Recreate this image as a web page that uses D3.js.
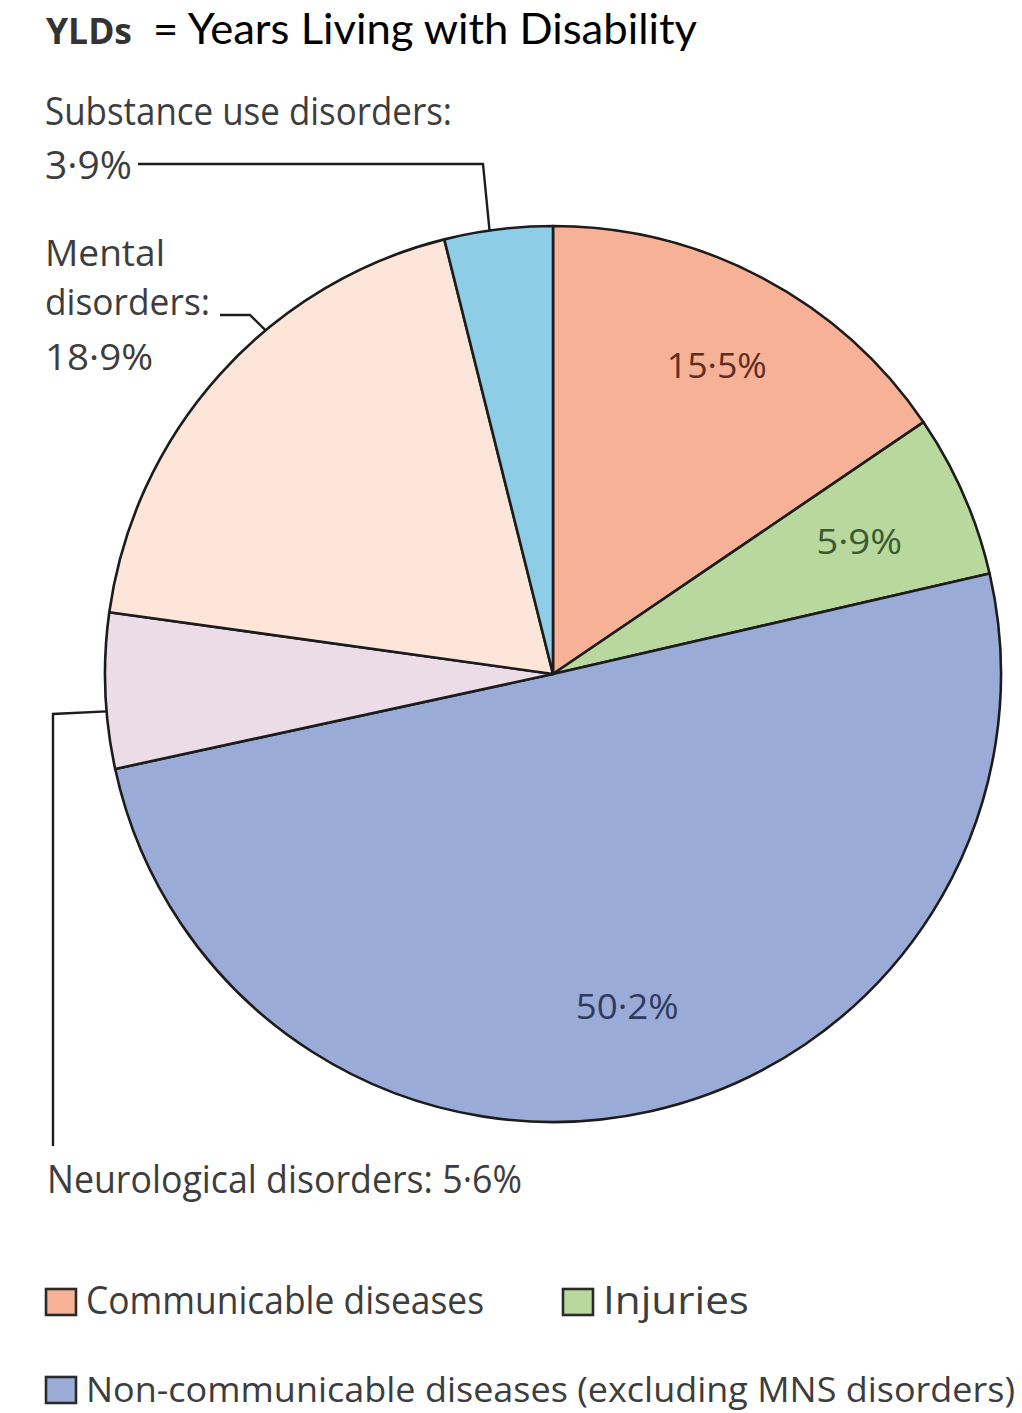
<!DOCTYPE html>
<html>
<head>
<meta charset="utf-8">
<script src="https://cdn.jsdelivr.net/npm/d3@7"></script>
<style>
  html, body { margin: 0; padding: 0; background: #ffffff; }
  svg { display: block; }
</style>
</head>
<body>
<svg id="chart" width="1022" height="1413"></svg>
<script>
// Share of YLDs by cause group, clockwise from 12 o'clock
const categories = [
  "Communicable diseases",
  "Injuries",
  "Non-communicable diseases (excluding MNS disorders)",
  "Neurological disorders",
  "Mental disorders",
  "Substance use disorders"
];
const shares = [15.5, 5.9, 50.2, 5.6, 18.9, 3.9];
const sliceColors = ["#f7b196", "#b9d89d", "#9babd7", "#ebdce8", "#fde5d9", "#8dcde6"];
const innerLabelColors = ["#5b2f22", "#3c5a32", "#2f3a5e"];
const legendItems = [0, 1, 2];

const fmt = v => v.toFixed(1).replace(".", "\u00b7") + "%";

const svg = d3.select("#chart");
const cx = 553, cy = 674, R = 448;

const data = categories.map((c, i) => ({ name: c, value: shares[i], color: sliceColors[i], i }));
const pie = d3.pie().sort(null).value(d => d.value).startAngle(0).endAngle(2 * Math.PI);
const arcs = pie(data);
const arc = d3.arc().innerRadius(0).outerRadius(R);
const innerRadii = [350, 334, 340];

const g = svg.append("g").attr("transform", `translate(${cx},${cy})`);

g.selectAll("path.slice")
  .data(arcs)
  .join("path")
  .attr("class", "slice")
  .attr("d", arc)
  .attr("fill", d => d.data.color)
  .attr("stroke", "#1c1c1c")
  .attr("stroke-width", 2.6)
  .attr("stroke-linejoin", "round");

// Percentages printed inside the three large groups
const innerWidths = [100, 86, 103];
g.selectAll("text.inner")
  .data(arcs.slice(0, 3))
  .join("text")
  .attr("class", "inner")
  .attr("transform", (d, i) => {
    const r = innerRadii[i];
    const [x, y] = d3.arc().innerRadius(r).outerRadius(r).centroid(d);
    return `translate(${x},${y})`;
  })
  .attr("text-anchor", "middle")
  .attr("dominant-baseline", "central")
  .attr("font-family", "'Open Sans', sans-serif")
  .attr("font-size", 35)
  .attr("fill", (d, i) => innerLabelColors[i])
  .attr("textLength", (d, i) => innerWidths[i])
  .attr("lengthAdjust", "spacingAndGlyphs")
  .text(d => fmt(d.data.value));

// Point on the rim at a fraction t through a slice
function rimPoint(d, t) {
  const a = d.startAngle + (d.endAngle - d.startAngle) * t;
  return [cx + R * Math.sin(a), cy - R * Math.cos(a)];
}

const labelFont = "'Open Sans', sans-serif";
const labelColor = "#3d3d3d";
function label(x, y, txt, width, size) {
  svg.append("text")
    .attr("x", x).attr("y", y)
    .attr("font-family", labelFont)
    .attr("font-size", size || 38)
    .attr("fill", labelColor)
    .attr("textLength", width)
    .attr("lengthAdjust", "spacingAndGlyphs")
    .text(txt);
}

// Title
svg.append("text")
  .attr("x", 46).attr("y", 44)
  .attr("font-family", labelFont)
  .attr("font-weight", "bold")
  .attr("font-size", 36)
  .attr("fill", "#333333")
  .attr("textLength", 86)
  .attr("lengthAdjust", "spacingAndGlyphs")
  .text("YLDs");
svg.append("text")
  .attr("x", 153).attr("y", 44)
  .attr("font-family", "Lato, 'Open Sans', sans-serif")
  .attr("font-size", 42)
  .attr("fill", "#000000")
  .attr("textLength", 544)
  .attr("lengthAdjust", "spacingAndGlyphs")
  .text("= Years Living with Disability");

const leader = d3.line();
function drawLeader(pts) {
  svg.append("path")
    .attr("d", leader(pts))
    .attr("fill", "none")
    .attr("stroke", "#1c1c1c")
    .attr("stroke-width", 2.4);
}

// Substance use disorders
const sub = arcs[5];
label(45, 125, categories[5] + ":", 407);
label(45, 179, fmt(sub.data.value), 87);
drawLeader([[138, 164], [483, 164], rimPoint(sub, 0.42)]);

// Mental disorders
const men = arcs[4];
label(45, 266, "Mental", 120, 37);
label(45, 315, "disorders:", 165, 37);
label(45, 370, fmt(men.data.value), 108, 37);
drawLeader([[220, 315], [250, 315], rimPoint(men, 0.62)]);

// Neurological disorders
const neu = arcs[3];
label(47, 1193, categories[3] + ": " + fmt(neu.data.value), 475);
drawLeader([rimPoint(neu, 0.37), [53, 714], [53, 1146]]);

// Legend
const legendPos = [[46, 1289], [563, 1289], [46, 1377]];
const legendWidths = [398, 146, 929];
const legendSizes = [38, 38, 34];
legendItems.forEach((k, j) => {
  const [x, y] = legendPos[j];
  svg.append("rect")
    .attr("x", x).attr("y", y)
    .attr("width", 30).attr("height", 26)
    .attr("fill", sliceColors[k])
    .attr("stroke", "#2a2a2a")
    .attr("stroke-width", 2.6);
  label(x + 40, y + 25, categories[k], legendWidths[j], legendSizes[j]);
});
</script>
</body>
</html>
